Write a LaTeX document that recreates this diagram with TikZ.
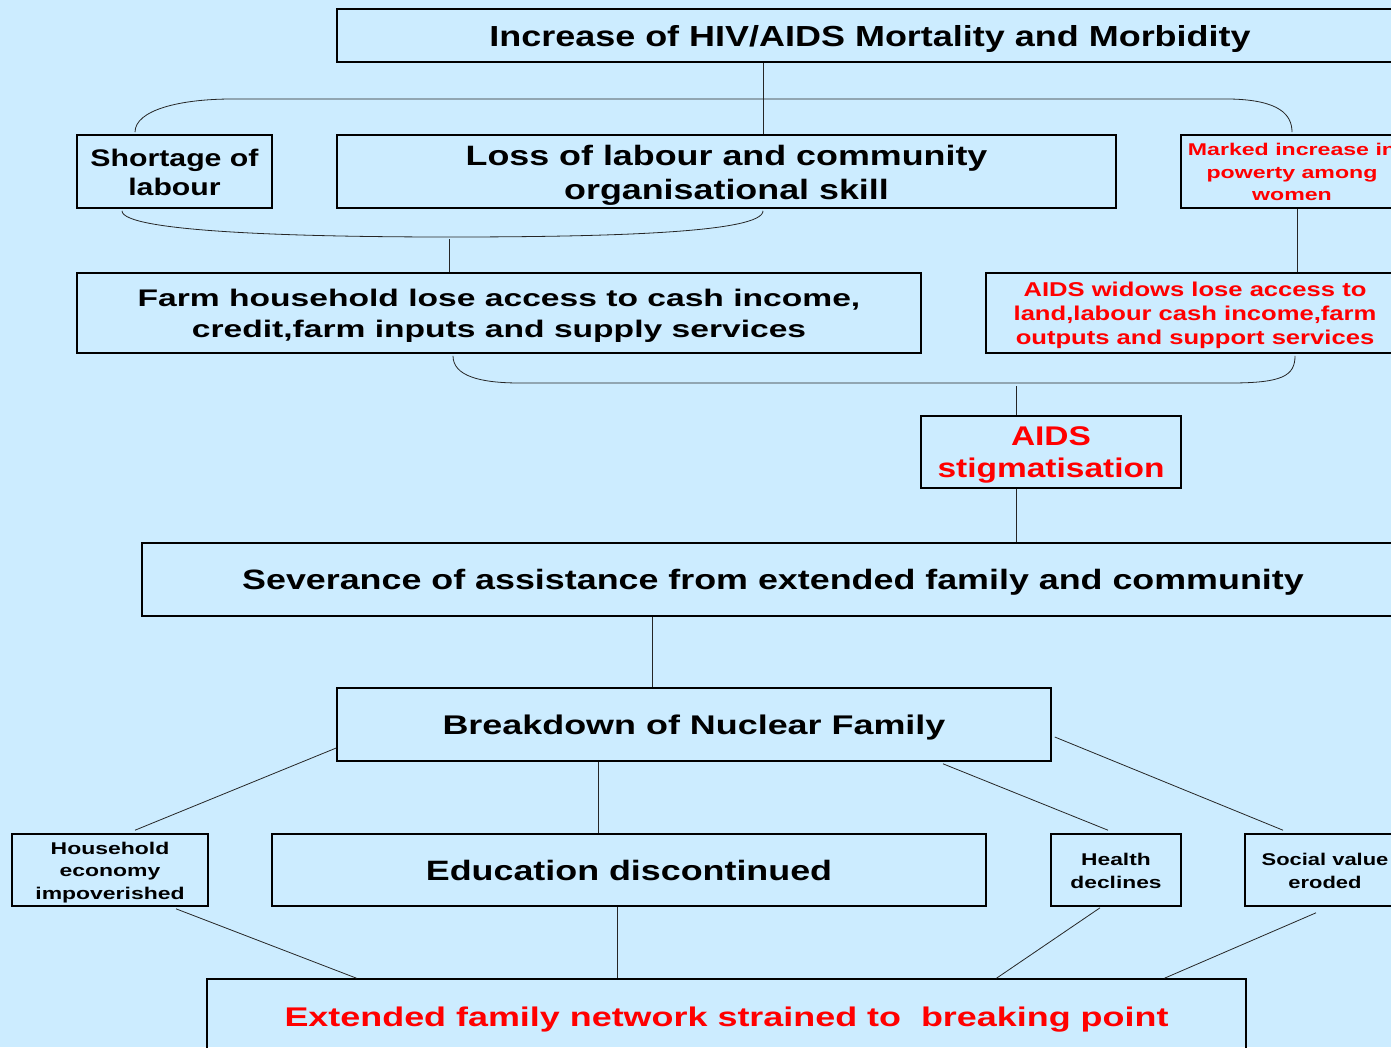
\documentclass[tikz,border=0pt]{standalone}
\usepackage{fontspec}
\setmainfont{Liberation Sans}
\usetikzlibrary{calc}
\definecolor{bgc}{HTML}{CCECFF}
\definecolor{redt}{HTML}{FF0000}
\newcommand\myfs[3]{\fontsize{#1}{#2}\selectfont\addfontfeature{FakeStretch=#3}}
\newcommand\mytxt[2][4pt]{\raisebox{-#1}[\height][\depth]{\begin{tabular}{@{}c@{}}#2\end{tabular}}}
\begin{document}
\begin{tikzpicture}[x=1pt,y=-1pt,
  box/.style={draw=black,line width=1.6pt,inner sep=0pt,align=center},
  conn/.style={line width=0.8pt,draw=black!85},
  redtxt/.style={text=redt}]
\useasboundingbox[fill=bgc] (0,0) rectangle (1391,1047);

% boxes
\node[box,minimum width=1066,minimum height=53,font=\bfseries\myfs{29}{34}{1.24}] (top) at (870,35.5) {\mytxt{Increase of HIV/AIDS Mortality and Morbidity}};
\node[box,minimum width=195,minimum height=73,font=\bfseries\myfs{24}{29}{1.26}] (short) at (174.5,171.5) {\mytxt[3.5pt]{Shortage of\\labour}};
\node[box,minimum width=779,minimum height=73,font=\bfseries\myfs{28}{34}{1.28}] (loss) at (726.5,171.5) {\mytxt{Loss of labour and community\\organisational skill}};
\node[box,redtxt,minimum width=222,minimum height=73,font=\bfseries\myfs{17}{22.5}{1.36}] (mark) at (1292,171.5) {\mytxt[2pt]{Marked increase in\\powerty among\\women}};
\node[box,minimum width=844,minimum height=80,font=\bfseries\myfs{24}{31}{1.40}] (farm) at (499,313) {\mytxt[2.5pt]{Farm household lose access to cash income,\\credit,farm inputs and supply services}};
\node[box,redtxt,minimum width=418,minimum height=80,font=\bfseries\myfs{20}{24}{1.28}] (wid) at (1195,313) {\mytxt[3pt]{AIDS widows lose access to\\land,labour cash income,farm\\outputs and support services}};
\node[box,redtxt,minimum width=260,minimum height=72,font=\bfseries\myfs{27}{32}{1.24}] (stig) at (1051,452) {\mytxt[3pt]{AIDS\\stigmatisation}};
\node[box,minimum width=1262,minimum height=73,font=\bfseries\myfs{28}{32}{1.28}] (sev) at (773,579.5) {\mytxt{Severance of assistance from extended family and community}};
\node[box,minimum width=714,minimum height=73,font=\bfseries\myfs{27}{32}{1.33}] (bnf) at (694,724.5) {\mytxt{Breakdown of Nuclear Family}};
\node[box,minimum width=196,minimum height=72,font=\bfseries\myfs{17}{22.5}{1.35}] (hh) at (110,870) {\mytxt[2pt]{Household\\economy\\impoverished}};
\node[box,minimum width=714,minimum height=72,font=\bfseries\myfs{28}{32}{1.28}] (edu) at (629,870) {\mytxt[4.5pt]{Education discontinued}};
\node[box,minimum width=130,minimum height=72,font=\bfseries\myfs{17}{23}{1.34}] (hea) at (1116,870) {\mytxt[2pt]{Health\\declines}};
\node[box,minimum width=160,minimum height=72,font=\bfseries\myfs{17}{23}{1.29}] (soc) at (1325,870) {\mytxt[2pt]{Social value\\eroded}};
\node[box,redtxt,minimum width=1039,minimum height=74,font=\bfseries\myfs{27}{32}{1.33}] (ext) at (726.5,1016) {\mytxt{Extended family network strained to\ \ breaking point}};

% helper x positions
\coordinate (x763) at (763,0);
\coordinate (x135) at (135,0);
\coordinate (x1292) at (1292,0);
\coordinate (x122) at (122,0);
\coordinate (x449) at (449,0);
\coordinate (x1297) at (1297,0);
\coordinate (x453) at (453,0);
\coordinate (x1295) at (1295,0);
\coordinate (x1016) at (1016,0);
\coordinate (x652) at (652,0);
\coordinate (x598) at (598,0);
\coordinate (x617) at (617,0);

% brace 1 (above row 2)
\draw[conn] (top.south -| x763) -- (loss.north -| x763);
\draw[conn] ([yshift=2pt]short.north -| x135) .. controls (135,110) and (180,99) .. (232,99)
  -- (1230,99) .. controls (1280,100) and (1292,115) .. ([yshift=2pt]mark.north -| x1292);

% brace 2 (below row 2)
\coordinate (b2m) at (449,237);
\draw[conn] ([yshift=-2pt]short.south -| x122) .. controls (122,232) and (300,237) .. (b2m)
  .. controls (620,237) and (763,232) .. ([yshift=-2pt]loss.south -| x763);
\draw[conn] ([yshift=-2pt]b2m) -- (farm.north -| x449);
\draw[conn] (mark.south -| x1297) -- (wid.north -| x1297);

% brace 3 (below row 3)
\coordinate (b3m) at (1016,386);
\draw[conn] ([yshift=-2pt]farm.south -| x453) .. controls (453,376) and (480,383) .. (520,383)
  -- (1230,383) .. controls (1282,383) and (1295,376) .. ([yshift=-2pt]wid.south -| x1295);
\draw[conn] (b3m) -- (stig.north -| x1016);
\draw[conn] (stig.south -| x1016) -- (sev.north -| x1016);
\draw[conn] (sev.south -| x652) -- (bnf.north -| x652);

% lower connectors
\draw[conn] ([yshift=-23.5pt]bnf.west) -- ([xshift=25pt,yshift=3pt]hh.north);
\draw[conn] (bnf.south -| x598) -- (edu.north -| x598);
\draw[conn] ([xshift=249pt,yshift=-2pt]bnf.south) -- ([xshift=-8pt,yshift=3pt]hea.north);
\draw[conn] ([xshift=3pt,yshift=-12.5pt]bnf.east) -- ([xshift=-42pt,yshift=3pt]soc.north);
\draw[conn] ([xshift=66pt,yshift=-2pt]hh.south) -- ([xshift=-370pt]ext.north);
\draw[conn] (edu.south -| x617) -- (ext.north -| x617);
\draw[conn] ([xshift=-16pt,yshift=-1pt]hea.south) -- ([xshift=270pt]ext.north);
\draw[conn] ([xshift=-9pt,yshift=-6pt]soc.south) -- ([xshift=438pt]ext.north);
\end{tikzpicture}
\end{document}
